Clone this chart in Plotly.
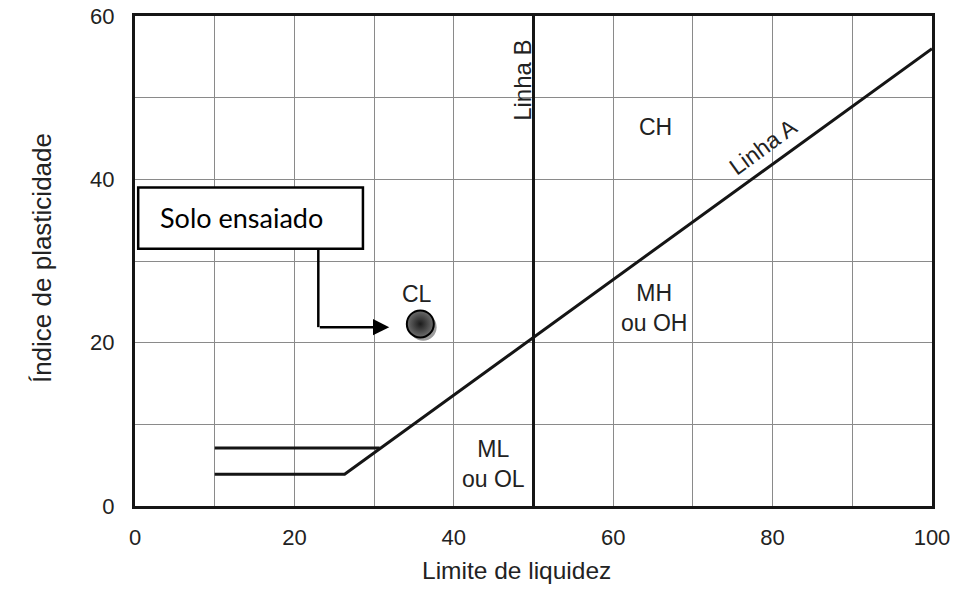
import plotly.graph_objects as go

# ---- data ----
linha_a_x = [10, 26.3, 100]          # lower limit line + Linha A
linha_a_y = [3.9, 3.9, 56.0]
upper_x = [10, 30.7]                 # upper limit (PI = 7)
upper_y = [7.1, 7.1]
linha_b_x = [50, 50]
linha_b_y = [0, 60]

solo_x = [35.8]                      # tested soil
solo_y = [22.3]

region_labels = ["CH", "CL", "MH<br>ou OH", "ML<br>ou OL"]
region_x = [65.3, 35.4, 65.1, 45.0]
region_y = [46.4, 25.9, 24.2, 5.1]

x_ticks = [0, 20, 40, 60, 80, 100]
y_ticks = [0, 20, 40, 60]

LINE = "#151515"
TXT = "#222"
FONT = "Liberation Sans, Arial, sans-serif"

fig = go.Figure()

fig.add_trace(go.Scatter(x=linha_a_x, y=linha_a_y, mode="lines",
                         line=dict(color=LINE, width=3), hoverinfo="skip"))
fig.add_trace(go.Scatter(x=upper_x, y=upper_y, mode="lines",
                         line=dict(color=LINE, width=3), hoverinfo="skip"))
fig.add_trace(go.Scatter(x=linha_b_x, y=linha_b_y, mode="lines",
                         line=dict(color=LINE, width=3), hoverinfo="skip"))

# shadow of the point
fig.add_trace(go.Scatter(x=[v + 0.35 for v in solo_x], y=[v - 0.4 for v in solo_y],
                         mode="markers",
                         marker=dict(size=27, color="rgba(90,90,90,0.6)", line=dict(width=0)),
                         hoverinfo="skip"))
fig.add_trace(go.Scatter(x=solo_x, y=solo_y, mode="markers",
                         marker=dict(size=27, color="#6e6e6e",
                                     gradient=dict(type="radial", color="#1c1c1c"),
                                     line=dict(color="#000000", width=2)),
                         name="Solo ensaiado"))

annotations = []
for t, x, y in zip(region_labels, region_x, region_y):
    annotations.append(dict(x=x, y=y, text=t, showarrow=False,
                            font=dict(family=FONT, size=23, color=TXT)))

annotations.append(dict(x=78.8, y=43.9, text="Linha A", textangle=-36, showarrow=False,
                        font=dict(family=FONT, size=23, color=TXT)))
annotations.append(dict(x=48.6, y=52.1, text="Linha B", textangle=-90, showarrow=False,
                        font=dict(family=FONT, size=24, color=TXT)))

# axis titles
annotations.append(dict(xref="paper", yref="paper", x=0.479, y=-0.163,
                        text="Limite de liquidez", showarrow=False,
                        font=dict(family=FONT, size=24.5, color=TXT)))
annotations.append(dict(xref="paper", yref="paper", x=-0.138, y=0.506,
                        text="Índice de plasticidade", textangle=-90, showarrow=False,
                        font=dict(family=FONT, size=26, color=TXT)))

# callout box
annotations.append(dict(x=13.4, y=35.3, text="Solo ensaiado", showarrow=False,
                        font=dict(family="Lato, sans-serif", size=27, color="#000")))
# arrow to the point
annotations.append(dict(x=31.9, y=21.9, ax=23.0, ay=21.9, axref="x", ayref="y",
                        xref="x", yref="y", text="", showarrow=True,
                        arrowhead=2, arrowsize=1.3, arrowwidth=2.5, arrowcolor="#000"))

shapes = [
    dict(type="rect", x0=0.4, x1=28.6, y0=31.5, y1=39.0, xref="x", yref="y",
         fillcolor="white", line=dict(color="#000", width=2.5), layer="above"),
    dict(type="line", x0=23.0, x1=23.0, y0=31.5, y1=21.9, xref="x", yref="y",
         line=dict(color="#000", width=2.5), layer="above"),
]

fig.update_layout(
    width=956, height=603,
    margin=dict(l=135, r=24, t=16, b=97),
    paper_bgcolor="white", plot_bgcolor="white",
    showlegend=False,
    annotations=annotations, shapes=shapes,
    font=dict(family=FONT, size=22, color=TXT),
)
fig.update_xaxes(range=[0, 100], tickvals=x_ticks, ticktext=[str(v) for v in x_ticks],
                 showgrid=True, gridcolor="#8a8a8a", gridwidth=1.3,
                 minor=dict(dtick=10, showgrid=True, gridcolor="#8a8a8a", gridwidth=1.3),
                 showline=True, linecolor=LINE, linewidth=3, mirror=True,
                 zeroline=False, ticks="", ticklabelstandoff=10, automargin=False,
                 ticklabeloverflow="allow",
                 tickfont=dict(family=FONT, size=22, color=TXT))
fig.update_yaxes(range=[0, 60], tickvals=y_ticks, ticktext=[str(v) for v in y_ticks],
                 showgrid=True, gridcolor="#8a8a8a", gridwidth=1.3,
                 minor=dict(dtick=10, showgrid=True, gridcolor="#8a8a8a", gridwidth=1.3),
                 showline=True, linecolor=LINE, linewidth=3, mirror=True,
                 zeroline=False, ticks="", ticklabelstandoff=13, automargin=False,
                 ticklabeloverflow="allow",
                 tickfont=dict(family=FONT, size=22, color=TXT))

# remove the default page margin so the 956x603 figure fills the window exactly
fig.write_html("out.html", config={"displayModeBar": False},
               post_script="document.body.style.margin='0';")
